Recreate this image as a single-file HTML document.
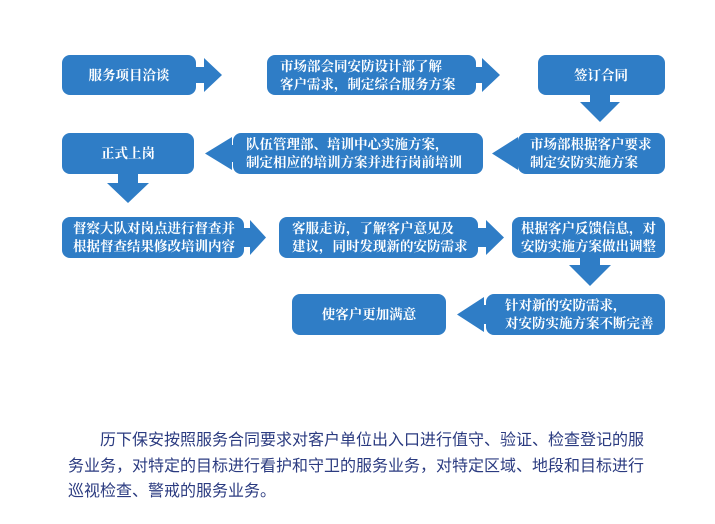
<!DOCTYPE html>
<html><head><meta charset="utf-8"><style>
html,body{margin:0;padding:0;background:#fff;width:715px;height:524px;overflow:hidden}
svg text{font-family:"Liberation Serif","Noto Serif CJK SC",serif;font-weight:bold;fill:#fff;font-size:13.5px}
.p{position:absolute;left:68px;top:428px;width:640px;font-family:"Liberation Sans","Noto Sans CJK SC",sans-serif;font-size:16px;line-height:25.5px;color:#2b3b80;letter-spacing:0px;white-space:nowrap}
</style></head><body>
<svg width="715" height="524" style="position:absolute;left:0;top:0" fill="#2f7dc6">
<rect x="62" y="55" width="134" height="40" rx="8"/>
<polygon points="194,67 204,67 204,58 222,75 204,92 204,83 194,83"/>
<text x="129" y="80" text-anchor="middle">服务项目洽谈</text>
<rect x="267" y="55" width="209" height="40" rx="8"/>
<polygon points="474,67 482,67 482,58 500,75 482,92 482,83 474,83"/>
<text x="280" y="71">市场部会同安防设计部了解</text>
<text x="280" y="89">客户需求，制定综合服务方案</text>
<rect x="538" y="55" width="127" height="40" rx="8"/>
<text x="601" y="80" text-anchor="middle">签订合同</text>
<polygon points="590,93 610,93 610,102 620,102 600,122 580,102 590,102"/>
<rect x="62" y="133" width="132" height="41" rx="8"/>
<text x="128" y="158" text-anchor="middle">正式上岗</text>
<rect x="233" y="133" width="250" height="41" rx="8"/>
<polygon points="236,145 232,145 232,137 205,153.5 232,170 232,162 236,162"/>
<text x="246" y="149">队伍管理部、培训中心实施方案，</text>
<text x="246" y="167">制定相应的培训方案并进行岗前培训</text>
<rect x="518" y="133" width="147" height="41" rx="8"/>
<polygon points="521,145 518,145 518,137 492,153.5 518,170 518,162 521,162"/>
<text x="530" y="149">市场部根据客户要求</text>
<text x="530" y="167">制定安防实施方案</text>
<polygon points="118,172 138,172 138,183 149,183 128,203 107,183 118,183"/>
<rect x="62" y="217" width="182" height="41" rx="8"/>
<polygon points="242,228 250,228 250,220 266,237.5 250,255 250,247 242,247"/>
<text x="73" y="233">督察大队对岗点进行督查并</text>
<text x="73" y="251">根据督查结果修改培训内容</text>
<rect x="279" y="217" width="199" height="41" rx="8"/>
<polygon points="476,228 486,228 486,220 504,237.5 486,255 486,247 476,247"/>
<text x="292" y="233">客服走访，了解客户意见及</text>
<text x="292" y="251">建议，同时发现新的安防需求</text>
<rect x="512" y="217" width="153" height="41" rx="8"/>
<text x="521" y="233">根据客户反馈信息，对</text>
<text x="521" y="251">安防实施方案做出调整</text>
<polygon points="580,256 600,256 600,265 611,265 590,286 569,265 580,265"/>
<rect x="292" y="294" width="154" height="41" rx="8"/>
<text x="369" y="319" text-anchor="middle">使客户更加满意</text>
<rect x="486" y="294" width="179" height="41" rx="8"/>
<polygon points="489,305 484,305 484,297 457,314.5 484,332 484,324 489,324"/>
<text x="505" y="310">针对新的安防需求，</text>
<text x="505" y="328">对安防实施方案不断完善</text>
</svg>
<div class="p"><span style="padding-left:32px"></span>历下保安按照服务合同要求对客户单位出入口进行值守、验证、检查登记的服<br>务业务，对特定的目标进行看护和守卫的服务业务，对特定区域、地段和目标进行<br>巡视检查、警戒的服务业务。</div>
</body></html>
